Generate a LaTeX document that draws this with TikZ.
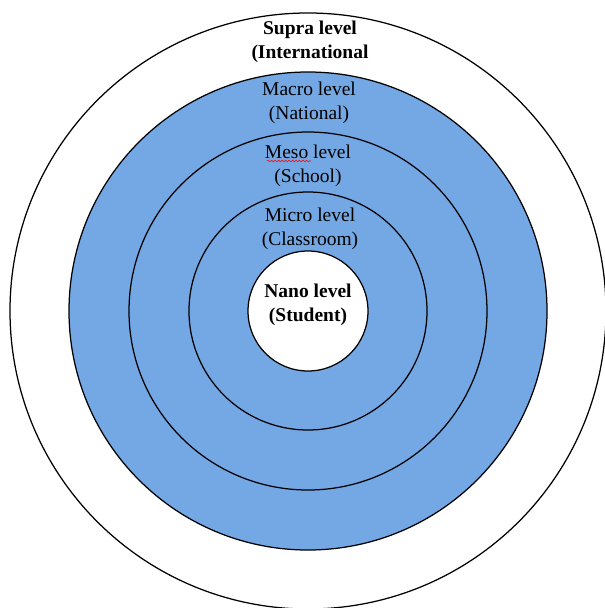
\documentclass[tikz,border=0pt]{standalone}
\usepackage{fontspec}
\setmainfont{Liberation Serif}
\usetikzlibrary{decorations.pathmorphing}
\definecolor{ringblue}{RGB}{116,168,228}
\begin{document}
\begin{tikzpicture}[x=1pt,y=-1pt,
  ring/.style={circle, draw=black, line width=1.25pt, inner sep=0pt},
  lbl/.style={align=center, inner sep=0pt, font=\fontsize{19.5}{24}\selectfont},
  lblb/.style={align=center, inner sep=0pt, font=\fontsize{19.5}{24}\selectfont\bfseries},
  squiggle/.style={draw=red, line width=0.6pt, decorate, decoration={snake, amplitude=0.8pt, segment length=3.5pt}}]
\useasboundingbox (0,0) rectangle (605,608);
\node[ring, fill=white, minimum size=596pt] (supra) at (308,311) {};
\node[ring, fill=ringblue, minimum size=478pt] (macro) at (308,311) {};
\node[ring, minimum size=358pt] (meso) at (308,311) {};
\node[ring, minimum size=238pt] (micro) at (308,311) {};
\node[ring, fill=white, minimum size=120pt] (nano) at (308,311) {};
\node[lblb] (tsupra) at (310,42) {Supra level\\(International};
\node[lbl] (tmacro) at (309,103) {Macro level\\(National)};
\node[lbl] (tmeso) at (308,166) {Meso level\\(School)};
\node[lbl] (tmicro) at (310,229) {Micro level\\(Classroom)};
\node[lblb] (tnano) at (308,305) {Nano level\\(Student)};
\coordinate (sqa) at (267,161);
\coordinate (sqb) at (311,161);
\draw[squiggle] (sqa) -- (sqb);
\end{tikzpicture}
\end{document}
